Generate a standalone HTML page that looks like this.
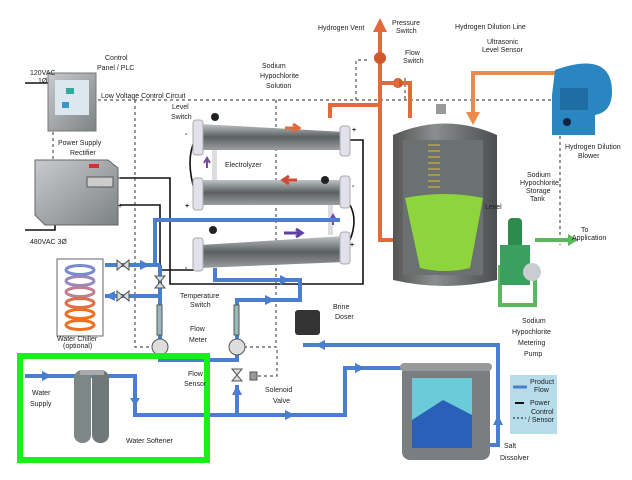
<!DOCTYPE html>
<html><head><meta charset="utf-8"><style>
html,body{margin:0;padding:0;background:#fff;}
svg{display:block;font-family:"Liberation Sans",sans-serif;}
text{font-size:7px;fill:#222;}
</style></head><body>
<svg width="632" height="480" viewBox="0 0 632 480" xmlns="http://www.w3.org/2000/svg">
<defs>
<linearGradient id="tube" x1="0" y1="0" x2="0" y2="1"><stop offset="0" stop-color="#bfc3c5"/><stop offset=".5" stop-color="#5a5f60"/><stop offset="1" stop-color="#9a9ea0"/></linearGradient>
<linearGradient id="tank" x1="0" y1="0" x2="1" y2="0"><stop offset="0" stop-color="#555"/><stop offset=".4" stop-color="#8a8e8e"/><stop offset="1" stop-color="#4a4e4e"/></linearGradient>
<linearGradient id="box" x1="0" y1="0" x2="1" y2="1"><stop offset="0" stop-color="#c8cbcd"/><stop offset="1" stop-color="#7d8285"/></linearGradient>
</defs>
<!-- dashed control lines -->
<g stroke="#555" stroke-width="1.2" stroke-dasharray="3,3" fill="none">
<path d="M98 100 H560 V245"/><path d="M135 100 V347 H160"/><path d="M53 132 V160"/>
<path d="M276 100 V347 H237"/><path d="M258 376 H277 V347"/><path d="M356 100 V60 H370"/>
<path d="M405 78 V100"/><path d="M270 185 H320"/><path d="M215 255 H320"/>
</g>
<!-- power lines -->
<g stroke="#111" stroke-width="1.6" fill="none">
<path d="M120 178 H170 V284 H363 V140 H350"/><path d="M120 205 H160 V270 H200"/>
<path d="M25 83 H48"/><path d="M25 230 H55 V224"/>
<path d="M195 140 Q185 160 195 192"/><path d="M350 205 Q358 220 350 240"/>
</g>
<!-- control panel -->
<rect x="48" y="73" width="48" height="58" fill="url(#box)" stroke="#777"/>
<rect x="55" y="80" width="34" height="35" fill="#dde8ee"/>
<rect x="66" y="88" width="8" height="6" fill="#3a9"/><rect x="62" y="102" width="7" height="6" fill="#39c"/>
<!-- rectifier -->
<path d="M35 160 H108 L118 168 V225 H45 L35 215Z" fill="url(#box)" stroke="#666"/>
<rect x="87" y="177" width="26" height="10" fill="#ccc" stroke="#555"/><rect x="89" y="164" width="10" height="4" fill="#c33"/>
<!-- orange lines -->
<g stroke="#e06a3a" stroke-width="4" fill="none">
<path d="M380 28 V240 H398"/><path d="M330 118 V105 H380"/><path d="M380 83 H410 V118"/>
</g>
<path d="M380 18 L373 32 H387Z" fill="#e06a3a"/>
<circle cx="380" cy="58" r="6" fill="#d0582c"/><circle cx="398" cy="83" r="5" fill="#d0582c"/>
<path d="M392 83 L399 78 V88Z" fill="#e06a3a"/>
<g stroke="#ed8a4a" stroke-width="4" fill="none"><path d="M560 73 H473 V115"/></g>
<path d="M466 112 H480 L473 125Z" fill="#ed8a4a"/>
<!-- blower -->
<path d="M555 70 Q612 50 612 92 Q612 112 595 115 V135 H552 V95Z" fill="#2a86c0"/>
<rect x="560" y="88" width="28" height="22" fill="#1f6ea3"/>
<circle cx="567" cy="122" r="4" fill="#124"/>
<!-- tank -->
<path d="M393 135 Q445 112 497 135 V280 Q445 292 393 280Z" fill="url(#tank)"/>
<rect x="403" y="140" width="80" height="135" fill="#6b7070"/>
<path d="M405 198 Q445 190 483 198 L470 268 Q445 274 420 268Z" fill="#8ed43d"/>
<g stroke="#e3c030" stroke-width="1"><path d="M428 145H440M428 151H440M428 157H440M428 163H440M428 169H440M428 175H440M428 181H440M428 187H440"/></g>
<rect x="436" y="104" width="10" height="10" fill="#999"/>
<!-- pump and green lines -->
<g stroke="#5cb85c" stroke-width="4" fill="none"><path d="M535 240 H570"/><path d="M500 265 V305 H518"/><path d="M535 275 V305 H518"/></g>
<path d="M568 234 L578 240 L568 246Z" fill="#5cb85c"/>
<rect x="508" y="218" width="14" height="50" rx="4" fill="#2e8b4e"/><rect x="500" y="245" width="30" height="40" fill="#3aa060"/>
<circle cx="532" cy="272" r="9" fill="#c9ccd0"/>
<!-- electrolyzers -->
<g>
<path d="M200 124 L345 132 V150 L200 150Z" fill="url(#tube)"/>
<path d="M200 180 H345 V205 H200Z" fill="url(#tube)"/>
<path d="M200 245 L345 236 V262 L200 268Z" fill="url(#tube)"/>
<g fill="#e2e0ea" stroke="#aaa">
<rect x="193" y="120" width="10" height="35" rx="3"/><rect x="340" y="126" width="10" height="30" rx="3"/>
<rect x="193" y="178" width="10" height="32" rx="3"/><rect x="340" y="176" width="10" height="32" rx="3"/>
<rect x="193" y="238" width="10" height="33" rx="3"/><rect x="340" y="232" width="10" height="32" rx="3"/>
</g>
<rect x="212" y="150" width="5" height="30" fill="#ddd"/><rect x="328" y="205" width="5" height="30" fill="#ddd"/>
<circle cx="215" cy="117" r="4" fill="#222"/><circle cx="325" cy="180" r="4" fill="#222"/><circle cx="213" cy="230" r="4" fill="#222"/>
<path d="M285 128 H297 M293 124 L299 128 L293 132" stroke="#e06a3a" stroke-width="3" fill="none"/>
<path d="M297 180 H285 M289 176 L283 180 L289 184" stroke="#d04a3a" stroke-width="3" fill="none"/>
<path d="M284 233 H300 M296 229 L302 233 L296 237" stroke="#6040a0" stroke-width="3" fill="none"/>
<path d="M207 168 V160 M204 163 L207 158 L210 163" stroke="#7a4aa0" stroke-width="2" fill="none"/>
<path d="M333 225 V217 M330 220 L333 215 L336 220" stroke="#7a4aa0" stroke-width="2" fill="none"/>
</g>
<!-- blue pipes -->
<g stroke="#4a7fd0" stroke-width="4" fill="none">
<path d="M25 376 H135 V415 H345 V368 H405"/><path d="M237 415 V385"/>
<path d="M155 265 V220 H340"/><path d="M105 265 H160"/><path d="M105 296 H160"/>
<path d="M160 265 V360 H237 V300 H300 V285"/><path d="M215 268 V280 H300 V300"/>
<path d="M303 345 H498 V445 H488"/>
</g>
<g fill="#4a7fd0"><path d="M140 260L150 265L140 270Z"/><path d="M280 275L290 280L280 285Z"/><path d="M265 295L275 300L265 305Z"/><path d="M325 340L315 345L325 350Z"/><path d="M42 371L52 376L42 381Z"/><path d="M130 398L135 406L140 398Z"/><path d="M285 410L295 415L285 420Z"/><path d="M355 363L365 368L355 373Z"/><path d="M493 425L498 415L503 425Z"/><path d="M115 291L105 296L115 301Z"/><path d="M232 395L237 385L242 395Z"/></g>
<!-- valves / meters -->
<g stroke="#555" fill="#ddd">
<circle cx="160" cy="347" r="8"/><circle cx="237" cy="347" r="8"/>
<path d="M117 260 L129 270 V260 L117 270Z"/><path d="M117 291 L129 301 V291 L117 301Z"/>
<path d="M155 276 L165 288 H155 L165 276Z"/><path d="M232 369 L242 381 H232 L242 369Z"/>
<rect x="157" y="305" width="5" height="30" fill="#9bb"/><rect x="234" y="305" width="5" height="30" fill="#9bb"/>
<rect x="250" y="372" width="7" height="8" fill="#999"/>
</g>
<rect x="295" y="310" width="25" height="25" rx="3" fill="#333"/>
<!-- chiller -->
<rect x="57" y="259" width="46" height="77" fill="#fff" stroke="#666"/>
<g fill="none" stroke-width="3"><ellipse cx="80" cy="270" rx="14" ry="4.5" stroke="#7a8ad0"/><ellipse cx="80" cy="281" rx="14" ry="4.5" stroke="#9a88b8"/><ellipse cx="80" cy="292" rx="14" ry="4.5" stroke="#c08090"/><ellipse cx="80" cy="303" rx="14" ry="4.5" stroke="#e0704a"/><ellipse cx="80" cy="314" rx="14" ry="4.5" stroke="#f07020"/><ellipse cx="80" cy="325" rx="14" ry="4.5" stroke="#f07020"/></g>
<!-- softener -->
<rect x="74" y="370" width="17" height="73" rx="8" fill="#7d8785"/><rect x="92" y="370" width="17" height="73" rx="8" fill="#6f7977"/>
<rect x="80" y="370" width="24" height="5" fill="#aaa"/>
<!-- dissolver -->
<rect x="402" y="365" width="88" height="95" rx="8" fill="#7a7e80"/>
<rect x="412" y="378" width="60" height="70" fill="#6ccbd8"/>
<path d="M412 420 L443 400 L472 415 V448 H412Z" fill="#2a60b8"/>
<rect x="400" y="363" width="92" height="8" rx="4" fill="#999"/>
<!-- legend -->
<rect x="510" y="375" width="47" height="59" fill="#b7dcea"/>
<path d="M513 387 H527" stroke="#4a7fd0" stroke-width="3"/><path d="M515 403 H524" stroke="#111" stroke-width="2"/><path d="M513 418 H526" stroke="#111" stroke-dasharray="2,2"/>
<text x="530" y="384" font-size="6">Product</text><text x="534" y="392" font-size="6">Flow</text>
<text x="530" y="405" font-size="6">Power</text><text x="531" y="414" font-size="6">Control</text><text x="528" y="422" font-size="6">/ Sensor</text>
<!-- green highlight -->
<rect x="20" y="356" width="187" height="104" fill="none" stroke="#19f019" stroke-width="6"/>
<!-- labels -->
<text x="30" y="75">120VAC</text><text x="38" y="83">1Ø</text>
<text x="105" y="60">Control</text><text x="97" y="70">Panel / PLC</text>
<text x="101" y="98">Low Voltage Control Circuit</text>
<text x="58" y="145" font-size="7.5">Power Supply</text><text x="70" y="155" font-size="7.5">Rectifier</text>
<text x="30" y="244">480VAC 3Ø</text>
<text x="172" y="109">Level</text><text x="171" y="119">Switch</text>
<text x="225" y="167">Electrolyzer</text>
<text x="262" y="68">Sodium</text><text x="260" y="78">Hypochlorite</text><text x="266" y="88">Solution</text>
<text x="318" y="30" font-size="7.5">Hydrogen Vent</text>
<text x="392" y="25" font-size="6">Pressure</text><text x="396" y="33" font-size="6">Switch</text>
<text x="405" y="55" font-size="6">Flow</text><text x="403" y="63" font-size="6">Switch</text>
<text x="455" y="29">Hydrogen Dilution Line</text>
<text x="487" y="44" font-size="6">Ultrasonic</text><text x="482" y="52" font-size="6">Level Sensor</text>
<text x="565" y="149">Hydrogen Dilution</text><text x="578" y="158">Blower</text>
<text x="527" y="177" font-size="6">Sodium</text><text x="520" y="185" font-size="6">Hypochlorite</text><text x="526" y="193" font-size="6">Storage</text><text x="530" y="201" font-size="6">Tank</text>
<text x="485" y="209">Level</text>
<text x="581" y="232" font-size="6">To</text><text x="572" y="240" font-size="6">Application</text>
<text x="522" y="323">Sodium</text><text x="512" y="334">Hypochlorite</text><text x="518" y="345">Metering</text><text x="524" y="356">Pump</text>
<text x="180" y="298">Temperature</text><text x="190" y="307">Switch</text>
<text x="190" y="331">Flow</text><text x="189" y="342">Meter</text>
<text x="333" y="309" font-size="8">Brine</text><text x="335" y="319" font-size="8">Doser</text>
<text x="188" y="376">Flow</text><text x="184" y="386">Sensor</text>
<text x="265" y="392">Solenoid</text><text x="273" y="403">Valve</text>
<text x="32" y="395">Water</text><text x="30" y="406">Supply</text>
<text x="126" y="443">Water Softener</text>
<text x="57" y="341" font-size="6">Water Chiller</text><text x="63" y="348" font-size="6">(optional)</text>
<text x="504" y="448">Salt</text><text x="500" y="460">Dissolver</text>
<g font-size="10" font-weight="bold"><text x="185" y="136">-</text><text x="352" y="132">+</text><text x="185" y="208">+</text><text x="352" y="188">-</text><text x="185" y="270">-</text><text x="350" y="247">+</text><text x="118" y="180">-</text><text x="118" y="208">+</text></g>
</svg>
</body></html>
